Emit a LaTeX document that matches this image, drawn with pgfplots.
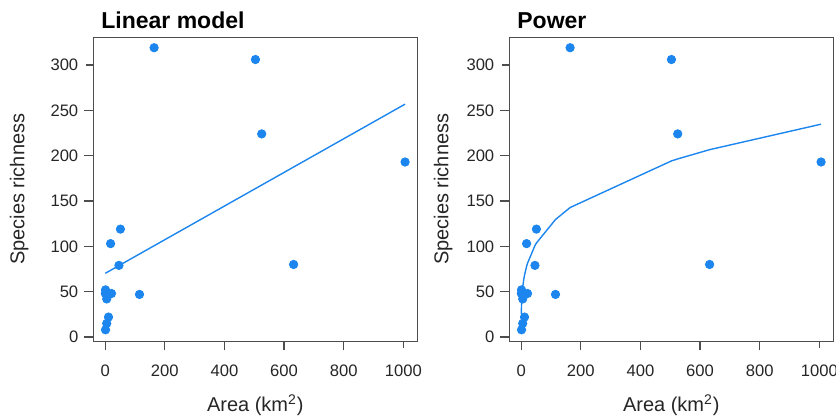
\documentclass[border=0pt]{standalone}
\usepackage{fontspec}
\setmainfont{Liberation Sans}
\usepackage{pgfplots}
\pgfplotsset{compat=1.18}

\definecolor{ptblue}{HTML}{1C86EE}
\definecolor{frame}{HTML}{4D4D4D}

% island data: area (km^2), species richness
\pgfplotstableread{
area species
164 319
504 306
525 224
1006 193
632 80
115 47
51 119
18 103
46 79
21 48
1 52
0.3 48
3 49
5 42
8 47
11 22
5 15
1 8
}\islands

\pgfplotsset{
  srplot/.style={
    scale only axis, width=162pt, height=152pt,
    xmin=-40, xmax=1047, ymin=-4.7, ymax=330.5,
    axis line style={frame, line width=0.6pt},
    xtick={0,200,...,1000}, ytick={0,50,...,300},
    xtick pos=bottom, ytick pos=left,
    tick align=outside, major tick length=4.5pt,
    tick style={frame, line width=0.6pt, shorten <=1pt},
    /pgf/number format/assume math mode=true,
    /pgf/number format/1000 sep={},
    ticklabel style={font=\fontsize{8.3}{9}\selectfont, text=black!85},
    xticklabel style={yshift=-4pt},
    yticklabel style={xshift=0.5pt},
    xlabel={Area (km\textsuperscript{2})},
    ylabel={Species richness},
    every axis x label/.style={at={(axis description cs:0.5,-0.2105)}, anchor=center,
      font=\fontsize{10}{12}\selectfont, text=black!85},
    every axis title shift=0pt,
    title style={at={(axis description cs:0,1)}, anchor=base west, xshift=0.5pt, yshift=4.65pt,
      font=\fontsize{11.5}{13}\selectfont\bfseries},
    clip=false,
  },
}

\begin{document}
\begin{tikzpicture}
\useasboundingbox (0,0) rectangle (418pt,209.5pt);

\begin{axis}[srplot, at={(46.65pt,38.85pt)}, anchor=south west,
  title={Linear model},
  every axis y label/.style={at={(axis description cs:-0.2284,0.5)}, rotate=90, anchor=center,
    font=\fontsize{10}{12}\selectfont, text=black!85}]
\addplot[only marks, mark=*, mark size=2.1pt, ptblue] table[x=area, y=species] {\islands};
\addplot[ptblue, line width=0.7pt] coordinates {(0.3,70.3) (1006,256.8)};
\end{axis}

\begin{axis}[srplot, at={(254.65pt,38.85pt)}, anchor=south west,
  title={Power},
  every axis y label/.style={at={(axis description cs:-0.2037,0.5)}, rotate=90, anchor=center,
    font=\fontsize{10}{12}\selectfont, text=black!85}]
\addplot[only marks, mark=*, mark size=2.1pt, ptblue] table[x=area, y=species] {\islands};
\addplot[ptblue, line width=0.7pt] coordinates {
  (0.3,25.4) (1,35.3) (3,47.7) (5,54.9) (8,62.4) (11,68.1) (18,77.9) (21,81.3)
  (46,100.8) (51,103.7) (115,129.6) (164,142.8) (504,194.2) (525,196.4)
  (632,206.6) (1006,234.7)
};
\end{axis}
\end{tikzpicture}
\end{document}
